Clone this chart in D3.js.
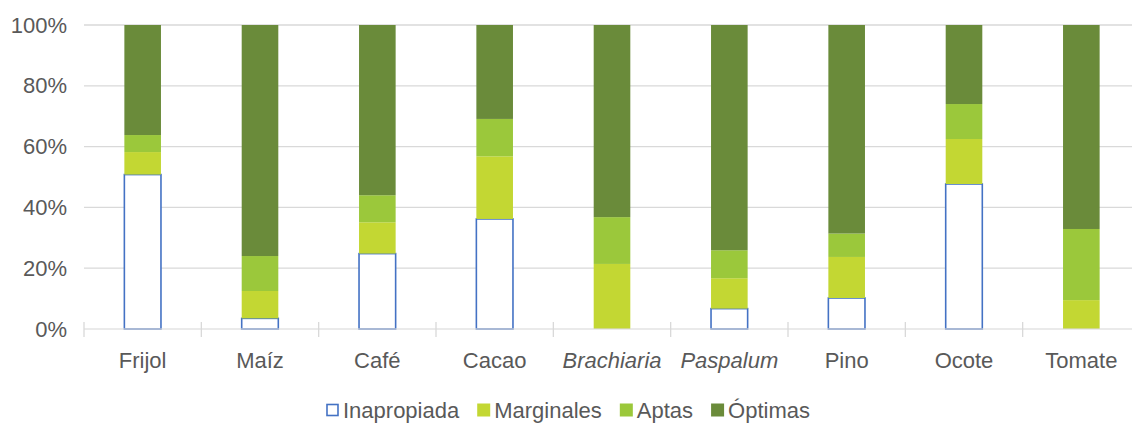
<!DOCTYPE html>
<html>
<head>
<meta charset="utf-8">
<script src="https://cdn.jsdelivr.net/npm/d3@7/dist/d3.min.js"></script>
<style>
  html, body { margin: 0; padding: 0; background: #fff; }
  svg { display: block; font-family: "Liberation Sans", Arial, sans-serif; }
</style>
</head>
<body>
<svg id="chart" width="1132" height="426"></svg>
<script>
// Crops and the share (%) of land in each suitability class
const categories = ["Frijol", "Maíz", "Café", "Cacao", "Brachiaria", "Paspalum", "Pino", "Ocote", "Tomate"];
const italicCategories = ["Brachiaria", "Paspalum"];
const seriesNames = ["Inapropiada", "Marginales", "Aptas", "Óptimas"];
const inapropiada = [50.8, 3.5, 24.8, 36.2, 0.0, 6.7, 10.2, 47.7, 0.0];
const marginales  = [7.4, 9.0, 10.3, 20.6, 21.4, 10.0, 13.5, 14.8, 9.5];
const aptas       = [5.6, 11.5, 8.9, 12.3, 15.4, 9.2, 7.7, 11.5, 23.4];
const optimas     = [36.2, 76.0, 56.0, 30.9, 63.2, 74.1, 68.6, 26.0, 67.1];
const yTicks = [0, 0.2, 0.4, 0.6, 0.8, 1.0];

const seriesValues = [inapropiada, marginales, aptas, optimas];
const fills   = ["#ffffff", "#c3d733", "#9bc83b", "#6a8b3a"];
const strokes = ["#4472c4", "none", "none", "none"];

const rows = categories.map((c, i) => {
  const row = { cat: c };
  seriesNames.forEach((s, k) => { row[s] = seriesValues[k][i]; });
  return row;
});

const stacked = d3.stack().keys(seriesNames).offset(d3.stackOffsetExpand)(rows);

const svg = d3.select("#chart");
const plotLeft = 84, plotRight = 1140, plotTop = 25, plotBottom = 329;
const pad = 0.688;

const x = d3.scaleBand().domain(categories).range([plotLeft, plotRight])
  .paddingInner(pad).paddingOuter(pad / 2);
const y = d3.scaleLinear().domain([0, 1]).range([plotBottom, plotTop]);

const textColor = "#595959";
const gridColor = "#d9d9d9";

// horizontal gridlines
svg.append("g")
  .selectAll("line")
  .data(yTicks.filter(t => t > 0))
  .join("line")
  .attr("x1", plotLeft).attr("x2", plotRight)
  .attr("y1", d => y(d)).attr("y2", d => y(d))
  .attr("stroke", gridColor).attr("stroke-width", 1.3);

// y axis labels
const yAxis = d3.axisLeft(y).tickValues(yTicks).tickFormat(d3.format(".0%")).tickSize(0).tickPadding(0);
const gy = svg.append("g").attr("transform", `translate(${plotLeft - 17},0)`).call(yAxis);
gy.select(".domain").remove();
gy.selectAll("text")
  .attr("fill", textColor)
  .style("font-size", "22px")
  .style("font-family", "'Liberation Sans', Arial, sans-serif");

// stacked bars
const bw = x.bandwidth();
svg.append("g")
  .selectAll("g")
  .data(stacked)
  .join("g")
  .attr("fill", (d, k) => fills[k])
  .attr("stroke", (d, k) => strokes[k])
  .attr("stroke-width", 1.6)
  .selectAll("rect")
  .data(d => d.map((v, i) => ({ v, cat: categories[i] })))
  .join("rect")
  .attr("x", d => x(d.cat))
  .attr("width", bw)
  .attr("y", d => y(d.v[1]))
  .attr("height", d => Math.max(0, y(d.v[0]) - y(d.v[1])));

// category axis with boundary ticks
const step = x.step();
const boundaries = categories.map(c => x(c) + bw / 2 - step / 2).concat([plotRight]);
const gx = svg.append("g");
gx.append("line")
  .attr("x1", plotLeft).attr("x2", plotRight)
  .attr("y1", plotBottom).attr("y2", plotBottom)
  .attr("stroke", gridColor).attr("stroke-opacity", 0.75).attr("stroke-width", 1.3);
gx.selectAll("line.tick")
  .data(boundaries)
  .join("line")
  .attr("class", "tick")
  .attr("x1", d => d).attr("x2", d => d)
  .attr("y1", plotBottom - 7).attr("y2", plotBottom + 8)
  .attr("stroke", gridColor).attr("stroke-width", 1.3);

gx.selectAll("text")
  .data(categories)
  .join("text")
  .attr("x", d => x(d) + bw / 2)
  .attr("y", 368)
  .attr("text-anchor", "middle")
  .attr("fill", textColor)
  .style("font-size", "22px")
  .style("font-style", d => italicCategories.includes(d) ? "italic" : "normal")
  .text(d => d);

// legend
const legend = svg.append("g");
const sq = 13, gapText = 4, gapItem = 18, legendY = 410;
const items = seriesNames.map((s, k) => {
  const g = legend.append("g");
  g.append("rect")
    .attr("width", k === 0 ? sq - 2 : sq).attr("height", k === 0 ? sq - 2 : sq)
    .attr("x", k === 0 ? 1 : 0).attr("y", k === 0 ? -sq / 2 + 1 : -sq / 2)
    .attr("fill", fills[k])
    .attr("stroke", strokes[k]).attr("stroke-width", 1.6);
  const t = g.append("text")
    .attr("x", sq + gapText).attr("dy", "0.35em")
    .attr("fill", textColor)
    .style("font-size", "22px")
    .text(s);
  return { g, w: sq + gapText + t.node().getComputedTextLength() };
});
const total = d3.sum(items, d => d.w) + gapItem * (items.length - 1);
let cx = 568 - total / 2;
items.forEach(it => {
  it.g.attr("transform", `translate(${cx},${legendY})`);
  cx += it.w + gapItem;
});
</script>
</body>
</html>
